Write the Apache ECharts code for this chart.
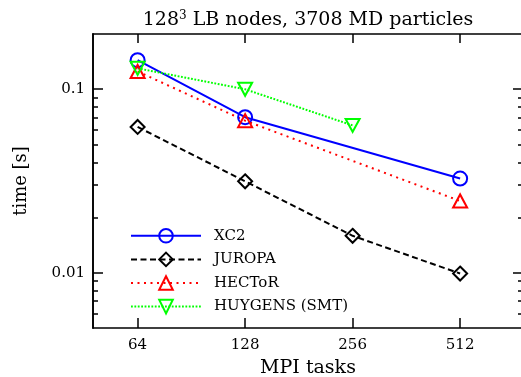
<!DOCTYPE html>
<html>
<head>
<meta charset="utf-8">
<script src="https://cdn.jsdelivr.net/npm/echarts@6/dist/echarts.min.js"></script>
<style>
  html, body { margin: 0; padding: 0; background: #fff; }
  #chart { width: 521px; height: 377px; }
</style>
</head>
<body>
<div id="chart"></div>
<script>
// MPI task counts (x, log2 axis)
const tasks = [64, 128, 256, 512];
const xTickLabels = [64, 128, 256, 512];
const yMajorTicks = [0.01, 0.1];
const yMinorTicks = [0.006, 0.007, 0.008, 0.009, 0.02, 0.03, 0.04, 0.05, 0.06, 0.07, 0.08, 0.09];

// time per step [s]
const xc2 = [[64, 0.144], [128, 0.0704], [512, 0.0326]];
const juropa = [[64, 0.0623], [128, 0.0315], [256, 0.0159], [512, 0.0099]];
const hector = [[64, 0.125], [128, 0.0674], [512, 0.0246]];
const huygens = [[64, 0.130], [128, 0.100], [256, 0.0635]];

const serif = '"DejaVu Serif", "Liberation Serif", serif';
const chart = echarts.init(document.getElementById('chart'));

const xBase = {
  type: 'log',
  logBase: 2,
  min: 48,
  max: 768,
  axisLine: { lineStyle: { color: '#000', width: 1.6 } },
  splitLine: { show: false },
};
const yBase = {
  type: 'log',
  logBase: 10,
  min: 0.005,
  max: 0.2,
  axisLine: { lineStyle: { color: '#000', width: 1.6 } },
  splitLine: { show: false },
};

function mkSeries(name, data, color, lineType, symbol, size, rotate) {
  return {
    name: name,
    type: 'line',
    data: data,
    symbol: symbol,
    symbolSize: size,
    symbolRotate: rotate || 0,
    showAllSymbol: true,
    lineStyle: { color: color, width: 2, type: lineType },
    itemStyle: { color: 'rgba(255,255,255,0)', borderColor: color, borderWidth: 2 },
    emphasis: { disabled: true },
    animation: false,
  };
}

const option = {
  animation: false,
  title: {
    text: '128{sup|3} LB nodes, 3708 MD particles',
    left: 303,
    textAlign: 'center',
    top: 5,
    textStyle: {
      fontFamily: serif,
      fontSize: 19,
      fontWeight: 'normal',
      color: '#000',
      rich: {
        sup: { fontFamily: serif, fontSize: 12, verticalAlign: 'top', padding: [0, 0, 9, 0], color: '#000' },
      },
    },
  },
  grid: { left: 93, right: -2, top: 34, bottom: 49, containLabel: false, outerBoundsMode: 'none' },
  legend: {
    orient: 'vertical',
    left: 125,
    top: 223,
    itemWidth: 70,
    itemHeight: 17,
    itemGap: 8,
    textStyle: { fontFamily: serif, fontSize: 15, color: '#000', padding: [0, 0, 0, 8] },
    data: ['XC2', 'JUROPA', 'HECToR', 'HUYGENS (SMT)'],
  },
  xAxis: [
    Object.assign({}, xBase, {
      position: 'bottom',
      name: 'MPI tasks',
      nameLocation: 'middle',
      nameGap: 31,
      nameTextStyle: { fontFamily: serif, fontSize: 19, color: '#000' },
      axisTick: { inside: true, length: 10, customValues: xTickLabels, lineStyle: { color: '#000', width: 1.5 } },
      axisLabel: { customValues: xTickLabels, margin: 10, fontFamily: serif, fontSize: 15, color: '#000' },
    }),
    Object.assign({}, xBase, {
      position: 'top',
      axisTick: { inside: true, length: 9, customValues: xTickLabels, lineStyle: { color: '#000', width: 1.5 } },
      axisLabel: { show: false },
    }),
  ],
  yAxis: [
    Object.assign({}, yBase, {
      position: 'left',
      name: 'time [s]',
      nameLocation: 'middle',
      nameGap: 63,
      nameTextStyle: { fontFamily: serif, fontSize: 18, color: '#000' },
      axisTick: { inside: true, length: 10, customValues: yMajorTicks, lineStyle: { color: '#000', width: 1.5 } },
      axisLabel: { customValues: yMajorTicks, margin: 8, fontFamily: serif, fontSize: 15, color: '#000' },
    }),
    Object.assign({}, yBase, {
      position: 'left',
      axisTick: { inside: true, length: 5, customValues: yMinorTicks, lineStyle: { color: '#000', width: 1.5 } },
      axisLabel: { show: false },
    }),
    Object.assign({}, yBase, {
      position: 'right',
      axisTick: { inside: true, length: 10, customValues: yMajorTicks, lineStyle: { color: '#000', width: 1.5 } },
      axisLabel: { show: false },
    }),
    Object.assign({}, yBase, {
      position: 'right',
      axisTick: { inside: true, length: 5, customValues: yMinorTicks, lineStyle: { color: '#000', width: 1.5 } },
      axisLabel: { show: false },
    }),
  ],
  series: [
    mkSeries('XC2', xc2, '#0000ff', 'solid', 'circle', 14),
    mkSeries('JUROPA', juropa, '#000000', [6, 3.5], 'diamond', 14),
    mkSeries('HECToR', hector, '#ff0000', [2, 4.5], 'triangle', [14, 13]),
    mkSeries('HUYGENS (SMT)', huygens, '#00ff00', [1.8, 1.6], 'triangle', [14, 13], 180),
  ],
};

chart.setOption(option);
</script>
</body>
</html>
